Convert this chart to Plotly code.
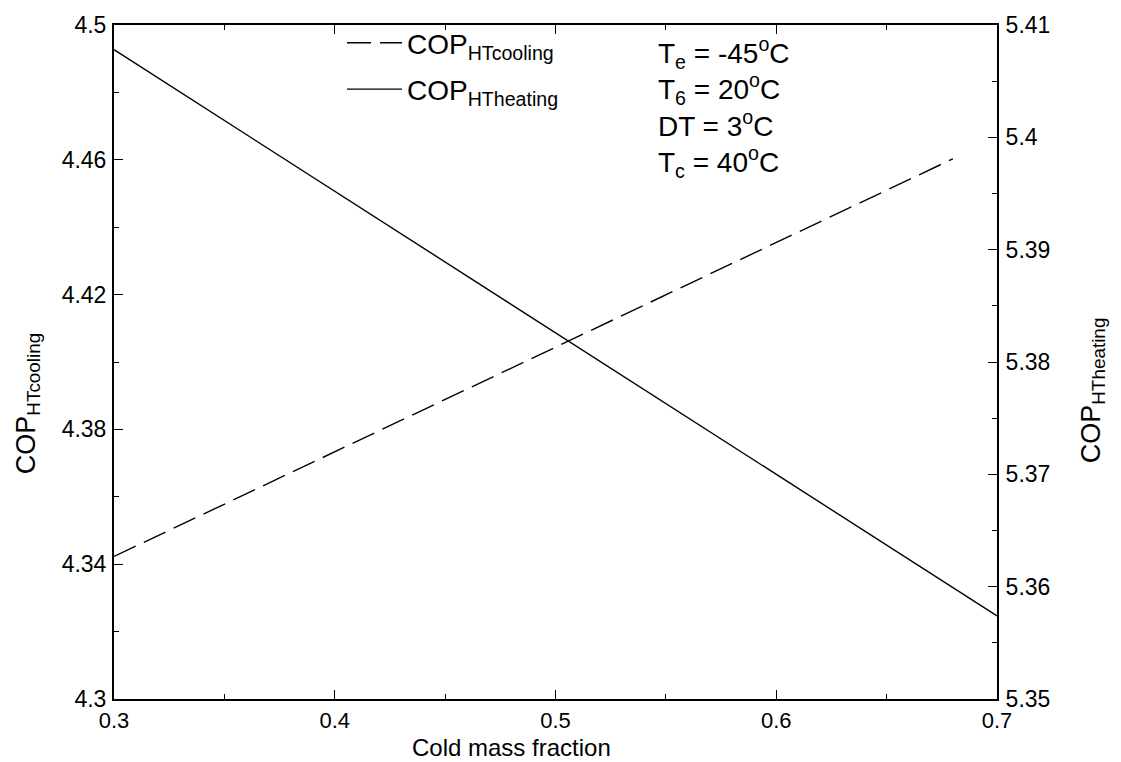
import plotly.graph_objects as go

# Cold mass fraction (x) and the two performance curves
cold_fraction_cooling = [0.30, 0.40, 0.50, 0.60, 0.68]
cop_ht_cooling = [4.3423, 4.3734, 4.4045, 4.4355, 4.4603]

cold_fraction_heating = [0.30, 0.40, 0.50, 0.60, 0.70]
cop_ht_heating = [5.4078, 5.3952, 5.3826, 5.3700, 5.3574]

conditions = [
    "T<sub>e</sub> = -45<sup>o</sup>C",
    "T<sub>6</sub> = 20<sup>o</sup>C",
    "DT = 3<sup>o</sup>C",
    "T<sub>c</sub> = 40<sup>o</sup>C",
]

FONT = "Liberation Sans"
TICK_SIZE = 23

fig = go.Figure()

fig.add_trace(go.Scatter(
    x=cold_fraction_cooling, y=cop_ht_cooling, mode="lines",
    name="COP<sub>HTcooling</sub>", legendgroup="cooling",
    line=dict(color="black", width=1.4, dash="24px,9px"),
    yaxis="y",
))
fig.add_trace(go.Scatter(
    x=cold_fraction_heating, y=cop_ht_heating, mode="lines",
    name="COP<sub>HTheating</sub>", legendgroup="heating",
    line=dict(color="black", width=1.4),
    yaxis="y2",
))

axis_common = dict(
    showgrid=False, zeroline=False,
    showline=True, linecolor="black", linewidth=2,
    ticks="inside", tickcolor="black", tickwidth=1.3, ticklen=9,
)
minor_common = dict(ticks="inside", ticklen=5, tickcolor="black", tickwidth=1.3)

fig.update_layout(
    width=1121, height=762,
    margin=dict(l=114, r=124, t=20, b=63),
    paper_bgcolor="white", plot_bgcolor="white",
    font=dict(family=FONT, size=TICK_SIZE, color="black"),
    xaxis=dict(
        range=[0.3, 0.7], tick0=0.3, dtick=0.1, tickformat=".1f",
        mirror="ticks",
        minor=dict(dtick=0.05, **minor_common),
        tickfont=dict(family=FONT, size=22, color="black"),
        ticklabelstandoff=1,
        **axis_common,
    ),
    yaxis=dict(
        range=[4.3, 4.5], tick0=4.3, dtick=0.04,
        minor=dict(dtick=0.02, **minor_common),
        tickfont=dict(family=FONT, size=TICK_SIZE, color="black"),
        ticklabelstandoff=1,
        **axis_common,
    ),
    yaxis2=dict(
        range=[5.35, 5.41], tick0=5.35, dtick=0.01,
        overlaying="y", side="right", anchor="x",
        minor=dict(dtick=0.005, **minor_common),
        tickfont=dict(family=FONT, size=TICK_SIZE, color="black"),
        ticklabelstandoff=2,
        **axis_common,
    ),
    showlegend=True,
    legend=dict(
        x=(342 - 114) / 883, y=1 - (13 - 20) / 679,
        xanchor="left", yanchor="top",
        bgcolor="rgba(0,0,0,0)", borderwidth=0,
        font=dict(family=FONT, size=28, color="black"),
        itemwidth=55, tracegroupgap=7,
    ),
)

# Axis titles
fig.add_annotation(
    text="Cold mass fraction", xref="paper", yref="paper",
    x=(511 - 114) / 883, y=-(762 - 699) / 679,
    xanchor="center", yanchor="bottom", showarrow=False, borderpad=0,
    font=dict(family=FONT, size=24, color="black"),
)
fig.add_annotation(
    text="COP<sub>HTcooling</sub>", xref="paper", yref="paper",
    x=-(114 - 28) / 883, y=(699 - 402) / 679,
    xanchor="center", yanchor="middle", textangle=-90, showarrow=False,
    font=dict(family=FONT, size=27, color="black"),
)
fig.add_annotation(
    text="COP<sub>HTheating</sub>", xref="paper", yref="paper",
    x=1 + (1093 - 997) / 883, y=(699 - 388) / 679,
    xanchor="center", yanchor="middle", textangle=-90, showarrow=False,
    font=dict(family=FONT, size=27, color="black"),
)

# Operating conditions block, one left-aligned multi-line label
fig.add_annotation(
    text="<br>".join(conditions), xref="paper", yref="paper",
    x=(656 - 114) / 883, y=(699 - 26) / 679,
    xanchor="left", yanchor="top", align="left", showarrow=False,
    font=dict(family=FONT, size=28, color="black"),
)

fig.write_html("out.html")
